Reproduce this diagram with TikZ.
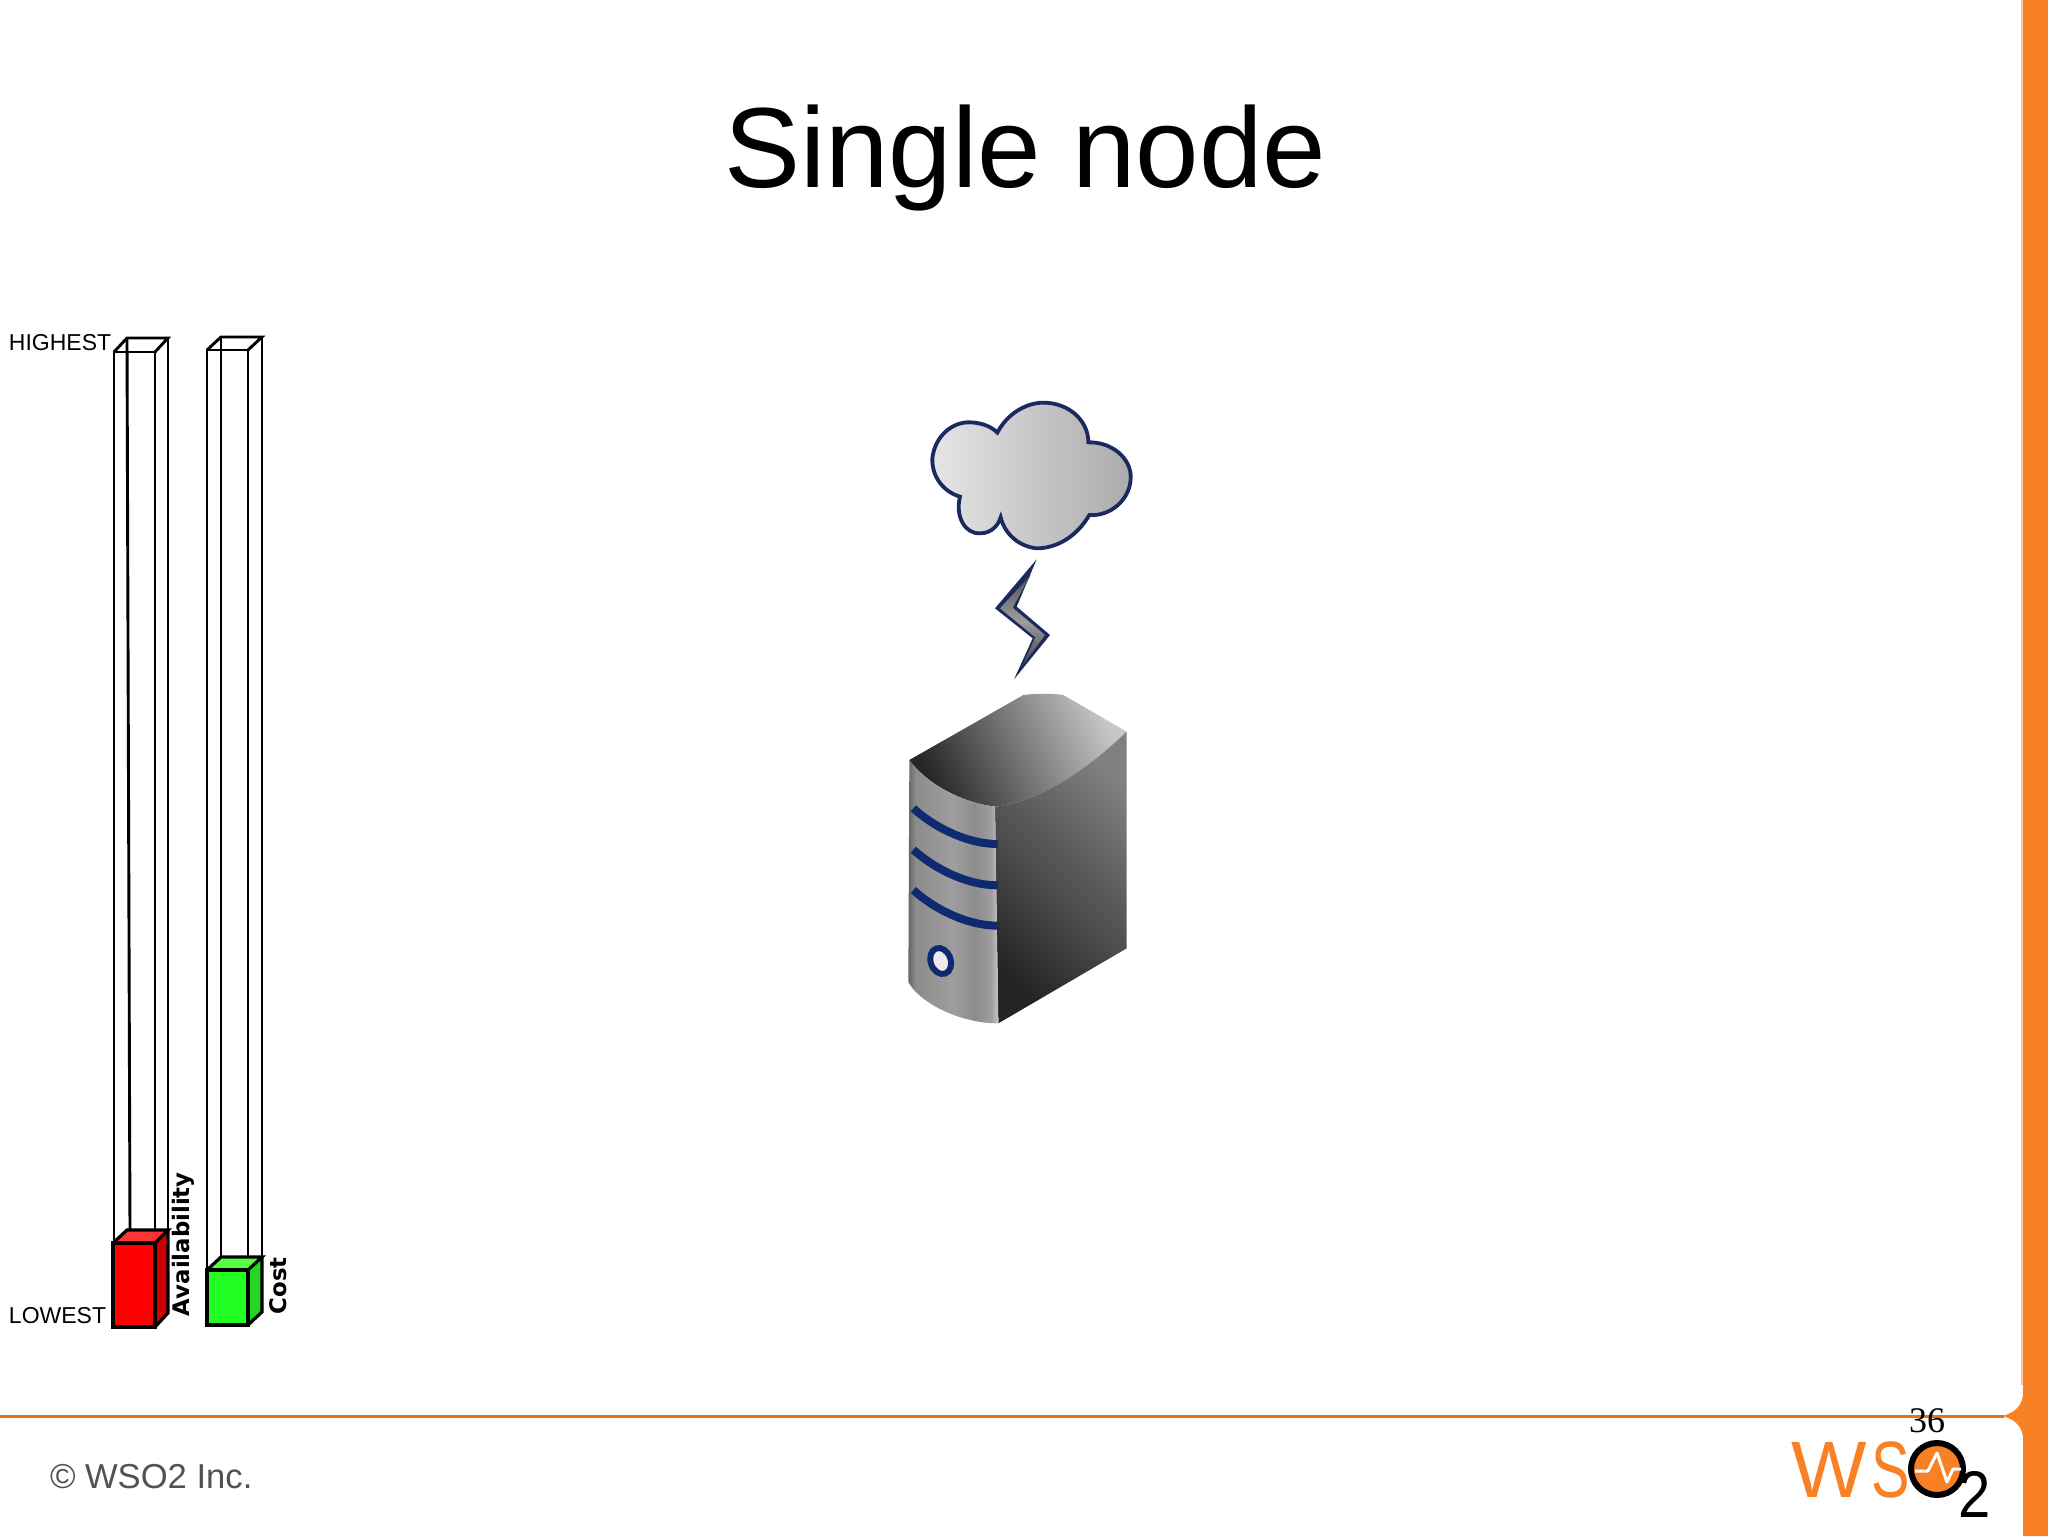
\documentclass[tikz,border=0pt]{standalone}
\usepackage{fontspec}
\setmainfont{Liberation Sans}
\newfontfamily\seriffont{Liberation Serif}
\newfontfamily\dejabold{DejaVu Sans Bold}
\definecolor{wsoorange}{HTML}{F98125}
\definecolor{navyline}{HTML}{1B2A5E}
\definecolor{stripeblue}{HTML}{0F2A70}
\definecolor{barred}{HTML}{FF0000}
\definecolor{barredtop}{HTML}{FF3333}
\definecolor{barredside}{HTML}{CC0000}
\definecolor{bargreen}{HTML}{22FF22}
\definecolor{bargreentop}{HTML}{55FF44}
\definecolor{bargreenside}{HTML}{22D622}
\pgfdeclarehorizontalshading{frontshade}{100bp}{
  color(0bp)=(black!60); color(25bp)=(black!60); color(29bp)=(black!45);
  color(50bp)=(black!38); color(62bp)=(black!45); color(71bp)=(black!38); color(75bp)=(black!22); color(100bp)=(black!22)}
\pgfdeclarehorizontalshading{cloudshade}{100bp}{
  color(0bp)=(black!10); color(25bp)=(black!10); color(38bp)=(black!16);
  color(55bp)=(black!24); color(75bp)=(black!33); color(100bp)=(black!33)}
\tikzset{
  txt/.style={inner sep=0pt,outer sep=0pt,anchor=base west,text=black},
  wire/.style={draw=black,line width=1.45pt,line join=miter},
  solidbox/.style={draw=black,line width=1.6pt,line join=miter},
  barlabel/.style={inner sep=0pt,outer sep=0pt,anchor=base west,rotate=90,font=\dejabold\fontsize{11.4}{13}\selectfont},
  small/.style={font=\fontsize{11.5}{13}\selectfont}
}
\begin{document}
\begin{tikzpicture}[x=0.5pt,y=-0.5pt]
\useasboundingbox (0,0) rectangle (2048,1536);
\fill[white] (0,0) rectangle (2048,1536);
% orange frame
\fill[wsoorange] (2048,0) -- (2023,0) -- (2023,1393) .. controls (2023,1405) and (2015,1413) .. (2002,1416) .. controls (2015,1419) and (2023,1427) .. (2023,1439) -- (2023,1536) -- (2048,1536) -- cycle;
\fill[wsoorange!45] (2020.5,0) rectangle (2023,1385);
\draw[line width=1.3pt,draw=wsoorange!90!black] (0,1416.5) -- (2004,1416.5);
% title
\node[txt,font=\fontsize{57}{60}\selectfont] (title) at (724,187) {Single node};
% bar 1 wireframe
\draw[wire] (114,1245) -- (114,352) -- (155,352) -- (155,1245);
\draw[wire] (114,352) -- (127,338) -- (168,338) -- (155,352);
\draw[wire] (127,338) -- (130,1232);
\draw[wire] (168,338) -- (168,1232);
% bar 1 fill
\fill[barred] (113,1243) rectangle (155,1327);
\fill[barredtop] (113,1243) -- (127,1230) -- (168,1230) -- (155,1243) -- cycle;
\fill[barredside] (155,1243) -- (168,1230) -- (168,1313) -- (155,1327) -- cycle;
\draw[solidbox] (113,1243) -- (127,1230) -- (168,1230) -- (155,1243);
\draw[solidbox] (168,1230) -- (168,1313) -- (155,1327);
\draw[draw=black,line width=2pt] (113,1243) rectangle (155,1327);
% bar 2 wireframe
\draw[wire] (207,1272) -- (207,350) -- (248,350) -- (248,1272);
\draw[wire] (207,350) -- (221,337) -- (262,337) -- (248,350);
\draw[wire] (221,337) -- (221,1259);
\draw[wire] (262,337) -- (262,1259);
% bar 2 fill
\fill[bargreen] (207,1270) rectangle (248,1325);
\fill[bargreentop] (207,1270) -- (221,1257) -- (262,1257) -- (248,1270) -- cycle;
\fill[bargreenside] (248,1270) -- (262,1257) -- (262,1312) -- (248,1325) -- cycle;
\draw[solidbox] (207,1270) -- (221,1257) -- (262,1257) -- (248,1270);
\draw[solidbox] (262,1257) -- (262,1312) -- (248,1325);
\draw[solidbox] (207,1270) rectangle (248,1325);
% labels
\node[txt,small] (hi) at (9,350) {HIGHEST};
\node[txt,small] (lo) at (9,1323) {LOWEST};
\node[barlabel] (avail) at (189,1316) {Availability};
\node[barlabel] (cost) at (286,1314) {Cost};
% cloud
\begin{scope}[shift={(880,380)},scale=1/3]
\path[draw=navyline,line width=1.9pt,shading=cloudshade]
 (352,158) .. controls (385,95) and (445,68) .. (490,68)
 .. controls (565,68) and (625,120) .. (625,187)
 .. controls (695,185) and (755,235) .. (752,295)
 .. controls (750,360) and (690,410) .. (628,405)
 .. controls (590,470) and (530,505) .. (470,505)
 .. controls (420,500) and (375,465) .. (362,412)
 .. controls (355,435) and (335,460) .. (300,460)
 .. controls (255,462) and (225,410) .. (240,350)
 .. controls (190,335) and (155,290) .. (157,235)
 .. controls (165,165) and (220,125) .. (270,127)
 .. controls (305,128) and (335,140) .. (352,158) -- cycle;
% lightning
\fill[navyline] (470,538) -- (345,685) -- (458,775) -- (402,898) -- (510,765) -- (410,680) -- cycle;
\path[top color=black!70,bottom color=black!75,middle color=black!38]
 (452,585) -- (360,685) -- (466,772) -- (425,860) -- (495,765) -- (398,683) -- cycle;
\end{scope}
% server
\begin{scope}[shift={(880,680)},scale=1/3]
\path[top color=black!22,bottom color=black!85,shading angle=-65]
 (88,240) -- (430,45) .. controls (470,40) and (520,40) .. (550,45) -- (740,155)
 .. controls (620,270) and (480,365) .. (345,380)
 .. controls (230,365) and (130,300) .. (88,240) -- cycle;
\path[top color=black!50,bottom color=black!86,shading angle=-45]
 (345,380) .. controls (480,365) and (620,270) .. (740,155) -- (740,805) -- (355,1030) -- cycle;
\path[shading=frontshade]
 (88,240) .. controls (130,300) and (230,365) .. (345,380) -- (355,1030)
 .. controls (230,1030) and (110,960) .. (85,905) -- cycle;
\foreach \yy in {0,124,245}{
  \draw[stripeblue,line width=4pt] (100,{385+\yy}) .. controls (160,440+\yy) and (260,492+\yy) .. (353,{492+\yy});
}
\draw[stripeblue,line width=3pt,fill=black!8,rotate around={20:(182,843)}] (182,843) ellipse (30 and 40);
\end{scope}
% page number
\node[txt,font=\seriffont\fontsize{18}{20}\selectfont,anchor=base] (num) at (1927,1432) {36};
% copyright
\node[txt,font=\fontsize{17.3}{20}\selectfont,text=black!68] (copy) at (50,1488) {© WSO2 Inc.};
% logo
\node[txt,font=\fontsize{40}{44}\selectfont,text=wsoorange] (logow) at (1791,1497) {W};
\node[txt,font=\fontsize{40}{44}\selectfont,text=wsoorange,xscale=.72] (logos) at (1871,1497) {S};
\node[txt,font=\fontsize{33}{36}\selectfont,text=black,xscale=.88] (logotwo) at (1958,1517) {2};
\path[fill=wsoorange,draw=black,line width=3pt] (1937,1469) circle (26);
\draw[white,line width=1.5pt,line join=round] (1915,1471) -- (1928,1471) -- (1937,1453) -- (1947,1482) -- (1953,1469) -- (1961,1469);
\end{tikzpicture}
\end{document}
